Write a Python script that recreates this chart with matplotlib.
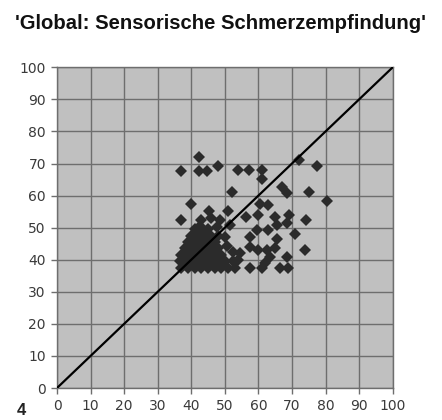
import matplotlib
matplotlib.use("Agg")
import matplotlib.pyplot as plt

title = "'Global: Sensorische Schmerzempfindung'"
ticks = [0, 10, 20, 30, 40, 50, 60, 70, 80, 90, 100]

# upper / outlying points
x_outer = [37, 42.3, 42.3, 44.8, 48, 54, 57.2, 61, 61.2, 52.2, 72, 77.4,
           67, 68.4, 75, 80.3, 60.5, 63, 40, 45.4, 37, 51, 56.3, 60, 65,
           69, 74.1, 65.4, 68.4, 57.5, 59.5, 63, 65.4, 71, 74, 60, 62.5,
           65, 68.4, 63.5, 54.5, 50.5, 52.5, 57.5, 57.5, 61, 66.4, 68.9,
           42.6, 47.8, 51.5, 50, 54, 62]
y_outer = [67.8, 72.1, 67.8, 67.8, 69.2, 68, 68, 68, 65.2, 61.2, 71.2, 69.1,
           62.8, 60.8, 61.2, 58.2, 57.5, 57.1, 57.4, 55.2, 52.5, 55.2, 53.3, 53.9, 53.4,
           53.9, 52.4, 50.9, 51.4, 47.2, 49.3, 49.3, 46.6, 47.9, 43.1, 43, 43,
           43.6, 40.9, 40.9, 42, 44.3, 42.5, 44, 37.4, 37.4, 37.4, 37.4,
           50.5, 50.3, 50.8, 47.2, 40, 39]

# dense cluster
x_dense = [37, 39, 41, 43, 45, 47, 49, 51, 53,
           36.5, 38, 40, 42, 44, 46, 48, 50, 52.5,
           37, 39, 41, 43, 45, 47, 49,
           38, 40, 42, 44, 46, 48,
           39, 41, 43, 45, 47,
           40, 42, 44, 46, 48,
           41, 43, 45, 43, 46, 48.5]
y_dense = [37.5, 37.5, 37.5, 37.5, 37.5, 37.5, 37.5, 37.5, 37.5,
           39.5, 39.5, 39.5, 39.5, 39.5, 39.5, 39.5, 39.5, 39.5,
           41.5, 41.5, 41.5, 41.5, 41.5, 41.5, 41.5,
           43.5, 43.5, 43.5, 43.5, 43.5, 43.5,
           45.5, 45.5, 45.5, 45.5, 45.5,
           47.5, 47.5, 47.5, 47.5, 47.5,
           49.5, 49.5, 49.5, 52.3, 53, 52.5]

fig = plt.figure(figsize=(4.42, 4.20), dpi=100)
ax = fig.add_axes([57/442, 1-388/420, (392.7-57)/442, (388-67.3)/420])
ax.set_facecolor('#c0c0c0')
ax.set_xlim(0, 100)
ax.set_ylim(0, 100)
ax.set_xticks(ticks)
ax.set_yticks(ticks)
ax.grid(True, color='#6e6e6e', linewidth=1.0)
ax.set_axisbelow(True)
for s in ax.spines.values():
    s.set_color('#6e6e6e')
    s.set_linewidth(1.0)
ax.tick_params(direction='out', length=4, width=1, color='#6e6e6e',
               labelsize=10, labelcolor='#3a3a3a', pad=4)

ax.plot(x_outer + x_dense, y_outer + y_dense, linestyle='none', marker='D',
        markersize=6.6, color='#2b2b2b', markeredgewidth=0, zorder=3)
ax.plot([0, 100], [0, 100], color='black', linewidth=1.6, zorder=4)

fig.text(15/442, 1-29/420, title, fontsize=14.6, fontweight='bold',
         family='Liberation Sans', va='baseline', ha='left', color='#111111')
fig.text(17/442, 1-403/420, '4', fontsize=12, fontweight='bold', va='top',
         family='Liberation Sans', color='#222222')

fig.savefig('out.png', dpi=100)
